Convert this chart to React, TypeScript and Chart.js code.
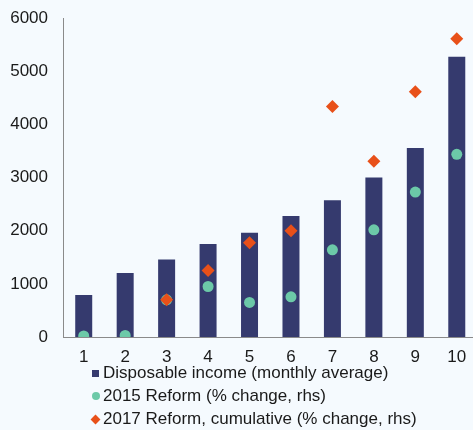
import React, { useEffect, useRef } from "react";
import { Chart, registerables } from "chart.js";

Chart.register(...registerables);

const categories = ["1", "2", "3", "4", "5", "6", "7", "8", "9", "10"];
const disposableIncome = [790, 1205, 1460, 1750, 1960, 2275, 2570, 3000, 3555, 5270];
const reform2015 = [20, 30, 700, 950, 650, 755, 1640, 2015, 2725, 3435];
const reform2017 = [null, null, 700, 1250, 1775, 2000, 4335, 3305, 4615, 5610];
const yTicks = [0, 1000, 2000, 3000, 4000, 5000, 6000];
const legendLabels = [
  "Disposable income (monthly average)",
  "2015 Reform (% change, rhs)",
  "2017 Reform, cumulative (% change, rhs)",
];

const BAR = "#353a6e";
const GREEN = "#6cc9a8";
const ORANGE = "#e85019";
const BG = "#f5fafe";
const FONT = "'Liberation Sans', Arial, sans-serif";
const TEXT = "#1a1a1a";

export default function App() {
  const ref = useRef<HTMLCanvasElement | null>(null);

  useEffect(() => {
    if (!ref.current) return;
    const chart = new Chart(ref.current, {
      type: "bar",
      data: {
        labels: categories,
        datasets: [
          {
            type: "line",
            label: legendLabels[2],
            data: reform2017,
            showLine: false,
            pointStyle: "rectRot",
            pointRadius: 6.5,
            backgroundColor: ORANGE,
            borderColor: ORANGE,
            borderWidth: 0,
            order: 1,
          },
          {
            type: "line",
            label: legendLabels[1],
            data: reform2015,
            showLine: false,
            pointStyle: "circle",
            pointRadius: 5.5,
            backgroundColor: GREEN,
            borderColor: GREEN,
            borderWidth: 0,
            order: 2,
          },
          {
            type: "bar",
            label: legendLabels[0],
            data: disposableIncome,
            backgroundColor: BAR,
            barPercentage: 0.41,
            categoryPercentage: 1,
            order: 3,
          },
        ],
      },
      options: {
        responsive: false,
        animation: false,
        layout: { padding: { top: 18, bottom: 63, left: 0, right: 0 } },
        plugins: { legend: { display: false }, tooltip: { enabled: false } },
        scales: {
          x: {
            grid: { display: false, drawTicks: false },
            border: { display: true, color: "#8a8a8a", width: 1 },
            ticks: {
              color: TEXT,
              font: { family: FONT, size: 17 },
              padding: 10,
              maxRotation: 0,
            },
            afterFit: (s: any) => {
              s.height = 30;
              s.paddingLeft = 0;
              s.paddingRight = 0;
            },
          },
          y: {
            min: 0,
            max: 6000,
            afterBuildTicks: (s: any) => {
              s.ticks = yTicks.map((v) => ({ value: v }));
            },
            grid: { display: false, drawTicks: false },
            border: { display: true, color: "#8a8a8a", width: 1 },
            ticks: {
              color: TEXT,
              font: { family: FONT, size: 17 },
              padding: 15,
              callback: (v: any) => String(v),
            },
            afterFit: (s: any) => {
              s.width = 63;
              s.paddingTop = 0;
              s.paddingBottom = 0;
            },
          },
        },
      },
    });
    return () => chart.destroy();
  }, []);

  const rowStyle = (top: number): React.CSSProperties => ({
    position: "absolute",
    left: 88,
    top,
    height: 20,
    lineHeight: "20px",
    fontFamily: FONT,
    fontSize: 17,
    color: TEXT,
    whiteSpace: "nowrap",
    display: "flex",
    alignItems: "center",
  });
  const markerBox: React.CSSProperties = {
    width: 15,
    height: 20,
    display: "flex",
    alignItems: "center",
    justifyContent: "center",
  };

  return (
    <div
      style={{
        position: "absolute",
        left: 0,
        top: 0,
        width: 473,
        height: 430,
        overflow: "hidden",
        background: BG,
      }}
    >
      <canvas ref={ref} width={484} height={430} style={{ display: "block" }} />
      <div style={rowStyle(363)}>
        <span style={markerBox}>
          <span style={{ width: 7, height: 7, background: BAR, display: "block" }} />
        </span>
        <span>{legendLabels[0]}</span>
      </div>
      <div style={rowStyle(386)}>
        <span style={markerBox}>
          <span style={{ width: 8, height: 8, borderRadius: 4, background: GREEN, display: "block" }} />
        </span>
        <span>{legendLabels[1]}</span>
      </div>
      <div style={rowStyle(409)}>
        <span style={markerBox}>
          <span style={{ width: 7, height: 7, background: ORANGE, transform: "rotate(45deg)", display: "block" }} />
        </span>
        <span>{legendLabels[2]}</span>
      </div>
    </div>
  );
}
